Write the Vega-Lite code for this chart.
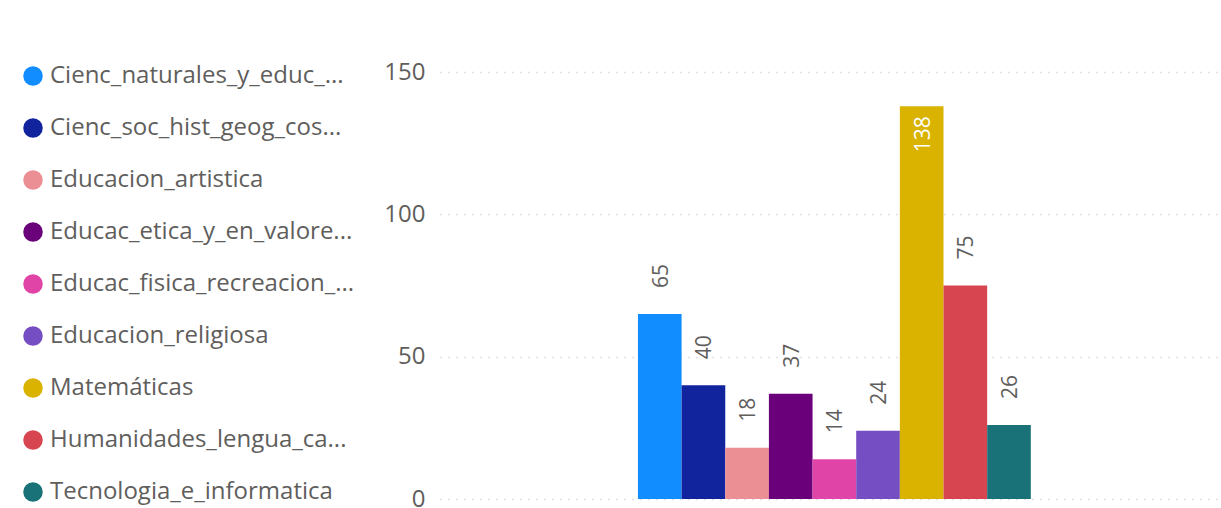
{
  "$schema": "https://vega.github.io/schema/vega-lite/v6.json",
  "autosize": {"type": "none"},
  "width": 781,
  "height": 427,
  "padding": {"left": 440, "top": 72, "right": 0, "bottom": 9},
  "background": "white",
  "config": {
    "view": {"stroke": null},
    "font": "Open Sans"
  },
  "data": {
    "values": [
      {"materia": "Cienc_naturales_y_educ_...", "valor": 65},
      {"materia": "Cienc_soc_hist_geog_cos...", "valor": 40},
      {"materia": "Educacion_artistica", "valor": 18},
      {"materia": "Educac_etica_y_en_valore...", "valor": 37},
      {"materia": "Educac_fisica_recreacion_...", "valor": 14},
      {"materia": "Educacion_religiosa", "valor": 24},
      {"materia": "Matemáticas", "valor": 138},
      {"materia": "Humanidades_lengua_ca...", "valor": 75},
      {"materia": "Tecnologia_e_informatica", "valor": 26}
    ]
  },
  "encoding": {
    "x": {
      "datum": "total",
      "type": "nominal",
      "axis": null,
      "scale": {"paddingInner": 0, "paddingOuter": 0.494, "align": 0.51}
    },
    "xOffset": {
      "field": "materia",
      "type": "nominal",
      "sort": null,
      "scale": {"paddingInner": 0, "paddingOuter": 0}
    },
    "y": {
      "field": "valor",
      "type": "quantitative",
      "scale": {"domain": [0, 150], "nice": false},
      "axis": {
        "values": [0, 50, 100, 150],
        "title": null,
        "domain": false,
        "ticks": false,
        "labelPadding": 15,
        "labelFontSize": 24,
        "labelColor": "#605E5C",
        "gridColor": "#C8C6C4",
        "gridDash": [1, 7],
        "gridWidth": 1.5
      }
    }
  },
  "layer": [
    {
      "mark": {"type": "bar"},
      "encoding": {
        "color": {
          "field": "materia",
          "type": "nominal",
          "sort": null,
          "scale": {
            "range": ["#118DFF", "#12239E", "#EB8F95", "#6B007B", "#E044A7", "#744EC2", "#D9B300", "#D64550", "#197278"]
          },
          "legend": {
            "title": null,
            "orient": "none",
            "legendX": -419,
            "legendY": -8,
            "symbolType": "circle",
            "symbolSize": 380,
            "symbolStrokeWidth": 0,
            "symbolOpacity": 1,
            "labelFontSize": 24,
            "labelColor": "#605E5C",
            "labelOffset": 5,
            "labelLimit": 400,
            "rowPadding": 28,
            "padding": 0
          }
        }
      }
    },
    {
      "transform": [{"filter": "datum.valor < 120"}],
      "mark": {"type": "text", "angle": 270, "align": "left", "baseline": "middle", "dx": 26, "dy": 2, "fontSize": 21, "color": "#605E5C"},
      "encoding": {"text": {"field": "valor", "type": "quantitative"}}
    },
    {
      "transform": [{"filter": "datum.valor >= 120"}],
      "mark": {"type": "text", "angle": 270, "align": "right", "baseline": "middle", "dx": -10, "dy": 2, "fontSize": 21, "color": "#FFFFFF"},
      "encoding": {"text": {"field": "valor", "type": "quantitative"}}
    }
  ]
}
